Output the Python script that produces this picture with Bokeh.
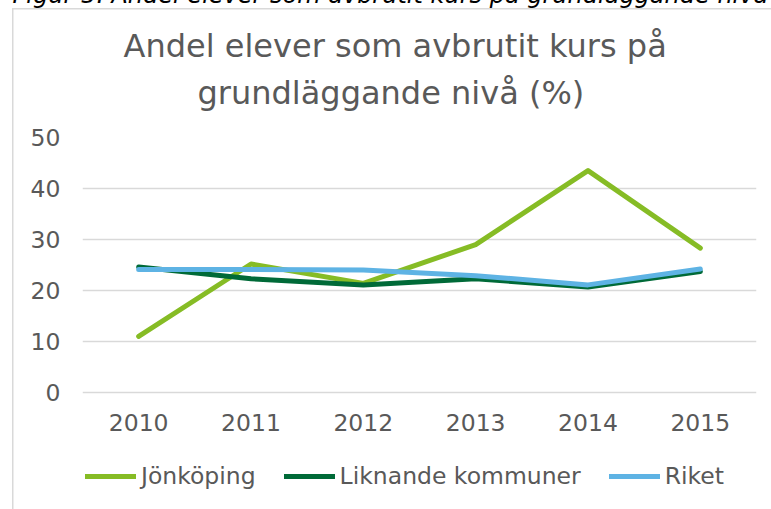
from bokeh.plotting import figure
from bokeh.models import Title, Legend, LegendItem, FixedTicker, Range1d
from bokeh.embed import file_html
from bokeh.resources import INLINE

# ---- data ----
years = ["2010", "2011", "2012", "2013", "2014", "2015"]
jonkoping = [11.0, 25.2, 21.4, 29.0, 43.5, 28.3]
liknande = [24.6, 22.3, 21.1, 22.3, 20.7, 23.7]
riket = [24.1, 24.1, 24.0, 22.9, 21.1, 24.2]
y_ticks = [0, 10, 20, 30, 40, 50]
title_lines = ["Andel elever som avbrutit kurs på", "grundläggande nivå (%)"]
caption = "Figur 5. Andel elever som avbrutit kurs på grundläggande nivå"
series_names = ["Jönköping", "Liknande kommuner", "Riket"]

# ---- style ----
FONT = "DejaVu Sans"
TXT = "#595959"
GRID = "#d9d9d9"
colors = ["#86BC25", "#006A38", "#5EB3E4"]

D = 30                      # canvas starts D px above the window (caption is cut off)
W, H = 771, 509 + D
FL, FR, FT = 82, 15, 137 + D
FW, FH = W - FL - FR, H - FT          # frame reaches the bottom so the legend sits inside it
PX_PER_UNIT = 255 / 50                # 0..50 spans 255 px
y_start = 50 - FH / PX_PER_UNIT

p = figure(x_range=years, y_range=Range1d(y_start, 50), width=W, height=H,
           frame_width=FW, frame_height=FH,
           output_backend="svg", toolbar_location=None,
           min_border_left=FL, min_border_right=FR,
           min_border_top=FT, min_border_bottom=0)
p.styles = {
    "margin-top": f"-{D}px",
    # chart border (left + top), drawn by the page element behind a transparent canvas
    "box-shadow": f"inset 12px {8 + D}px 0 0 #ffffff, inset 13.5px {9.5 + D}px 0 0 {GRID}",
}
p.outline_line_color = None
p.background_fill_color = "white"
p.border_fill_alpha = 0

p.xgrid.grid_line_color = None
p.ygrid.grid_line_color = GRID
p.ygrid.grid_line_width = 1.5
p.yaxis.ticker = FixedTicker(ticks=y_ticks)

for ax in (p.xaxis[0], p.yaxis[0]):
    ax.axis_line_color = None
    ax.major_tick_line_color = None
    ax.minor_tick_line_color = None
    ax.major_tick_in = 0
    ax.major_tick_out = 0
    ax.major_label_text_font = FONT
    ax.major_label_text_font_size = "23.5px"
    ax.major_label_text_color = TXT
p.yaxis.major_label_standoff = 22
# year labels sit just under the value 0 line (above the legend row)
p.xaxis.major_label_standoff = -96

renderers = []
for vals, col in zip([jonkoping, liknande, riket], colors):
    r = p.line(years, vals, line_color=col, line_width=5,
               line_cap="round", line_join="round")
    renderers.append(r)

legend = Legend(items=[LegendItem(label=n, renderers=[r]) for n, r in zip(series_names, renderers)],
                orientation="horizontal", location=(3, 19),
                padding=0, margin=0, spacing=28, glyph_width=51, glyph_height=20,
                label_standoff=5, border_line_color=None, background_fill_alpha=0,
                label_text_font=FONT, label_text_font_size="23.5px", label_text_color=TXT)
p.add_layout(legend, "center")

# titles, stacked upward from the frame
common = dict(align="left", vertical_align="top", text_font=FONT)
p.add_layout(Title(text=" ", offset=0, standoff=21.2, text_font_size="1px",
                   text_font_style="normal", text_color="#ffffff", **common), "above")
p.add_layout(Title(text=title_lines[1], offset=115, standoff=0, text_font_size="32px",
                   text_font_style="normal", text_color=TXT, **common), "above")
p.add_layout(Title(text=title_lines[0], offset=41, standoff=11.8, text_font_size="32px",
                   text_font_style="normal", text_color=TXT, **common), "above")
p.add_layout(Title(text=caption, offset=-70, standoff=20.6, text_font_size="24px",
                   text_font_style="italic", text_color="#000000", **common), "above")

open("out.html", "w").write(file_html(p, INLINE))
